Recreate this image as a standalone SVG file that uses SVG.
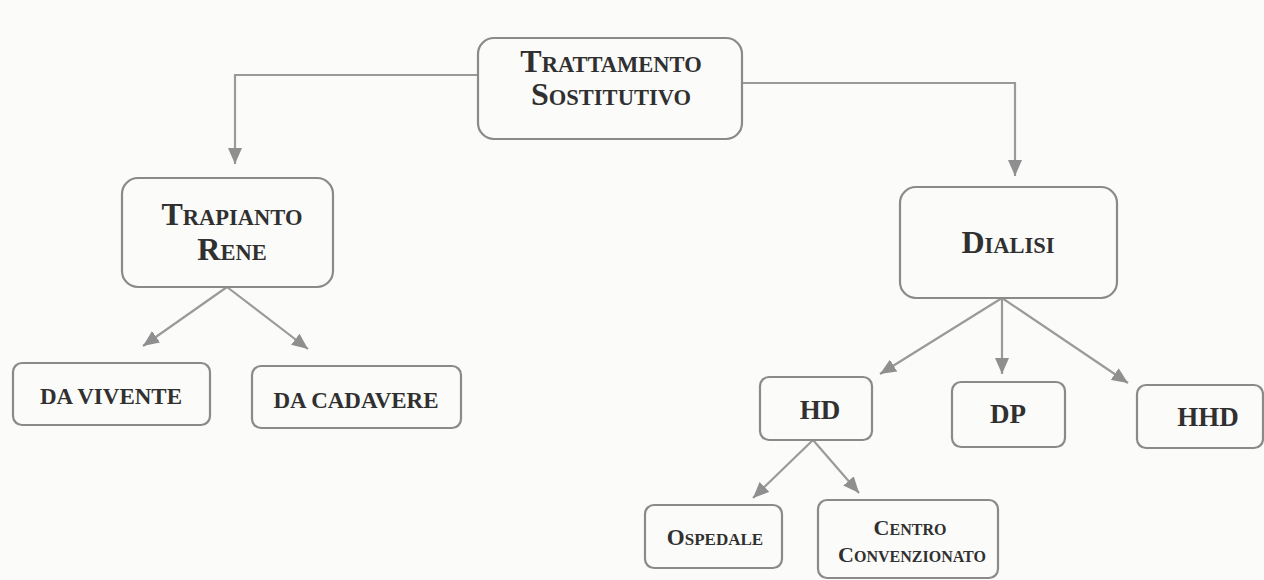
<svg xmlns="http://www.w3.org/2000/svg" width="1264" height="580" viewBox="0 0 1264 580">
<defs>
<marker id="ah" viewBox="0 0 16 14" refX="16" refY="7" markerWidth="16" markerHeight="14" markerUnits="userSpaceOnUse" orient="auto">
<path d="M0,0 L16,7 L0,14 Z" fill="#8f8f8f"/>
</marker>
<style>
.box{fill:none;stroke:#8a8a8a;stroke-width:2.2}
.lbl{font-family:"Liberation Serif","Times New Roman",serif;font-weight:bold;fill:#303030;text-anchor:middle}
.con{fill:none;stroke:#9a9a9a;stroke-width:2.2;marker-end:url(#ah)}
</style>
</defs>
<rect width="1264" height="580" fill="#fbfbf9"/>
<g id="connectors">
<path class="con" d="M478,75 L235,75 L235,164"/>
<path class="con" d="M742,83 L1015,83 L1015,176"/>
<path class="con" d="M227,287 L143,346"/>
<path class="con" d="M227,287 L308,349"/>
<path class="con" d="M1002,298 L880,374"/>
<path class="con" d="M1002,298 L1002,374"/>
<path class="con" d="M1002,298 L1128,383"/>
<path class="con" d="M813,440 L753,498"/>
<path class="con" d="M813,440 L859,493"/>
</g>
<g id="trattamento">
<rect class="box" x="478" y="38" width="264" height="101" rx="16"/>
<text class="lbl" x="611" y="72"><tspan font-size="32">T</tspan><tspan font-size="22.5">RATTAMENTO</tspan></text>
<text class="lbl" x="611" y="105"><tspan font-size="32">S</tspan><tspan font-size="22.5">OSTITUTIVO</tspan></text>
</g>
<g id="trapianto">
<rect class="box" x="122" y="178" width="211" height="109" rx="16"/>
<text class="lbl" x="232" y="225"><tspan font-size="32">T</tspan><tspan font-size="22.5">RAPIANTO</tspan></text>
<text class="lbl" x="232" y="260"><tspan font-size="32">R</tspan><tspan font-size="22.5">ENE</tspan></text>
</g>
<g id="davivente">
<rect class="box" x="13" y="363" width="197" height="62" rx="9"/>
<text class="lbl" x="111" y="404" font-size="23">DA VIVENTE</text>
</g>
<g id="dacadavere">
<rect class="box" x="252" y="366" width="209" height="62" rx="9"/>
<text class="lbl" x="356" y="408" font-size="23">DA CADAVERE</text>
</g>
<g id="dialisi">
<rect class="box" x="900" y="187" width="217" height="111" rx="16"/>
<text class="lbl" x="1008" y="253"><tspan font-size="32">D</tspan><tspan font-size="22.5">IALISI</tspan></text>
</g>
<g id="hd">
<rect class="box" x="760" y="377" width="112" height="63" rx="9"/>
<text class="lbl" x="820" y="419" font-size="27">HD</text>
</g>
<g id="dp">
<rect class="box" x="952" y="382" width="113" height="65" rx="9"/>
<text class="lbl" x="1008" y="423" font-size="27">DP</text>
</g>
<g id="hhd">
<rect class="box" x="1137" y="385" width="126" height="63" rx="9"/>
<text class="lbl" x="1208" y="426" font-size="27">HHD</text>
</g>
<g id="ospedale">
<rect class="box" x="645" y="505" width="137" height="63" rx="9"/>
<text class="lbl" x="715" y="545"><tspan font-size="23">O</tspan><tspan font-size="17">SPEDALE</tspan></text>
</g>
<g id="centro">
<rect class="box" x="818" y="500" width="180" height="78" rx="9"/>
<text class="lbl" x="910" y="535"><tspan font-size="22">C</tspan><tspan font-size="16">ENTRO</tspan></text>
<text class="lbl" x="912" y="562"><tspan font-size="22">C</tspan><tspan font-size="16">ONVENZIONATO</tspan></text>
</g>
</svg>
